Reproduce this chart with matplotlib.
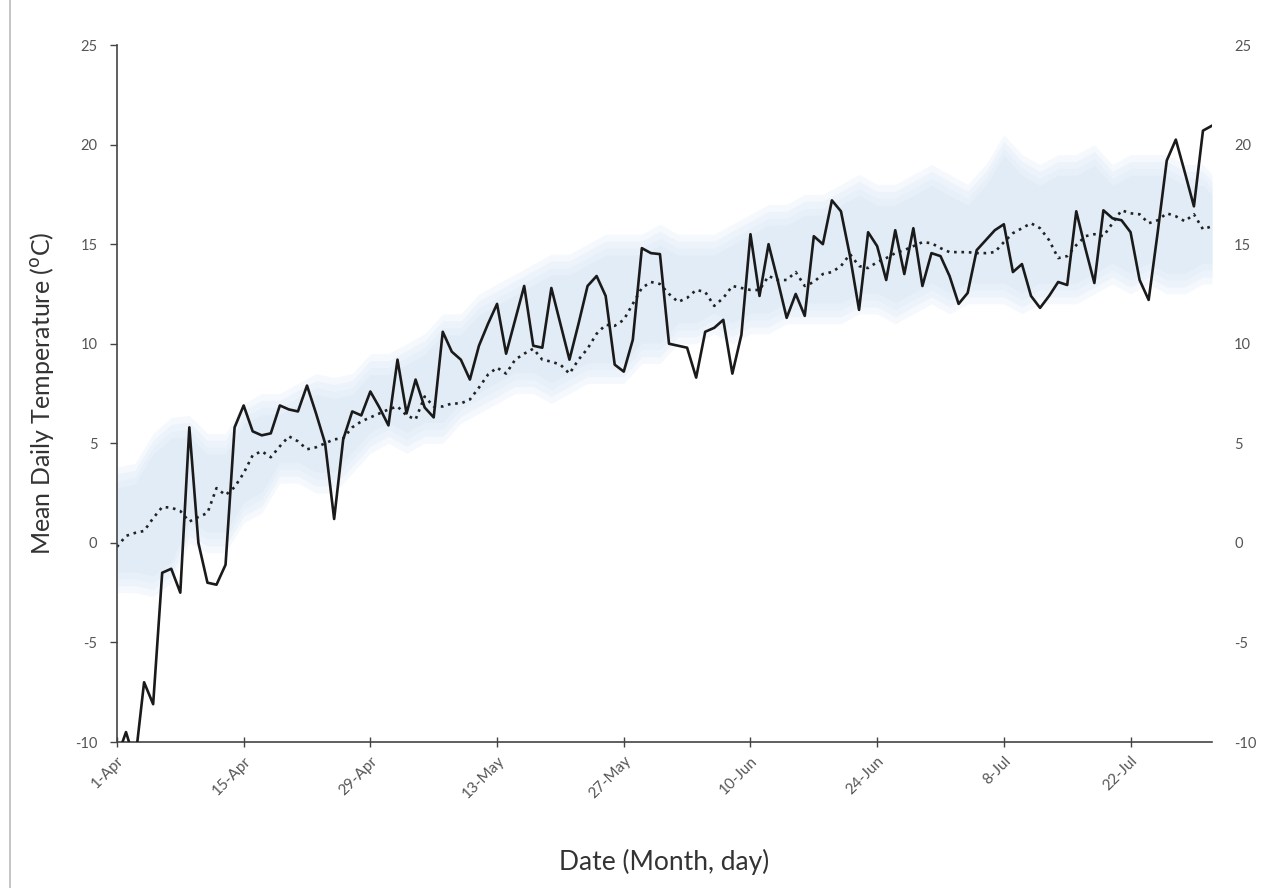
import numpy as np
import pandas as pd
import matplotlib
matplotlib.use('Agg')
import matplotlib.pyplot as plt

plt.rcParams['font.family'] = ['Lato', 'DejaVu Sans']
plt.rcParams['axes.unicode_minus'] = False

# daily values, 1 Apr - 31 Jul
dates = pd.date_range('2013-04-01', '2013-07-31', freq='D')

daily = [-10.8, -9.5, -11.0, -7.0, -8.1, -1.5, -1.3, -2.5, 5.8, 0.0,
         -2.0, -2.1, -1.1, 5.8, 6.9, 5.6, 5.4, 5.5, 6.9, 6.7,
         6.6, 7.9, 6.5, 5.0, 1.2, 5.2, 6.6, 6.4, 7.6, 6.8,
         5.9, 9.2, 6.5, 8.2, 6.8, 6.3, 10.6, 9.6, 9.2, 8.2,
         9.9, 11.0, 12.0, 9.5, 11.2, 12.9, 9.9, 9.8, 12.8, 11.0,
         9.2, 11.0, 12.9, 13.4, 12.4, 8.95, 8.6, 10.2, 14.8, 14.55,
         14.5, 10.0, 9.9, 9.8, 8.3, 10.6, 10.8, 11.2, 8.5, 10.45,
         15.5, 12.4, 15.0, 13.2, 11.3, 12.5, 11.4, 15.4, 15.0, 17.2,
         16.65, 14.4, 11.7, 15.6, 14.9, 13.2, 15.7, 13.5, 15.8, 12.9,
         14.55, 14.4, 13.4, 12.0, 12.55, 14.7, 15.2, 15.7, 16.0, 13.6,
         14.0, 12.4, 11.8, 12.4, 13.1, 12.95, 16.65, 14.8, 13.05, 16.7,
         16.3, 16.2, 15.6, 13.2, 12.2, 15.6, 19.2, 20.25, 18.6, 16.9,
         20.7, 20.95]

mean = [-0.2, 0.35, 0.5, 0.6, 1.24, 1.8, 1.77, 1.6, 1.07, 1.3,
        1.5, 2.75, 2.4, 2.8, 3.5, 4.4, 4.6, 4.3, 4.85, 5.35,
        5.1, 4.7, 4.8, 5.0, 5.2, 5.25, 5.8, 6.1, 6.3, 6.5,
        6.7, 6.85, 6.4, 6.2, 7.35, 6.85, 6.85, 7.0, 7.0, 7.2,
        7.8, 8.45, 8.8, 8.5, 9.2, 9.5, 9.75, 9.2, 9.1, 8.95,
        8.5, 9.2, 9.75, 10.5, 10.95, 10.9, 11.2, 12.0, 12.8, 13.1,
        13.0, 12.5, 12.1, 12.3, 12.7, 12.6, 11.9, 12.3, 12.9, 12.8,
        12.7, 12.7, 13.4, 13.2, 13.2, 13.6, 12.9, 13.1, 13.5, 13.6,
        13.9, 14.5, 13.9, 13.8, 14.1, 14.3, 14.55, 14.7, 14.9, 15.1,
        15.05, 14.8, 14.6, 14.6, 14.6, 14.55, 14.55, 14.6, 15.1, 15.55,
        15.8, 16.05, 15.8, 15.2, 14.3, 14.4, 14.95, 15.4, 15.5, 15.4,
        16.05, 16.7, 16.55, 16.5, 16.05, 16.2, 16.55, 16.4, 16.15, 16.5,
        15.75, 15.9]

# shaded range, every second day (plus 31 Jul)
band_dates = pd.to_datetime(['2013-04-01', '2013-04-03', '2013-04-05', '2013-04-07', '2013-04-09',
                             '2013-04-11', '2013-04-13', '2013-04-15', '2013-04-17', '2013-04-19',
                             '2013-04-21', '2013-04-23', '2013-04-25', '2013-04-27', '2013-04-29',
                             '2013-05-01', '2013-05-03', '2013-05-05', '2013-05-07', '2013-05-09',
                             '2013-05-11', '2013-05-13', '2013-05-15', '2013-05-17', '2013-05-19',
                             '2013-05-21', '2013-05-23', '2013-05-25', '2013-05-27', '2013-05-29',
                             '2013-05-31', '2013-06-02', '2013-06-04', '2013-06-06', '2013-06-08',
                             '2013-06-10', '2013-06-12', '2013-06-14', '2013-06-16', '2013-06-18',
                             '2013-06-20', '2013-06-22', '2013-06-24', '2013-06-26', '2013-06-28',
                             '2013-06-30', '2013-07-02', '2013-07-04', '2013-07-06', '2013-07-08',
                             '2013-07-10', '2013-07-12', '2013-07-14', '2013-07-16', '2013-07-18',
                             '2013-07-20', '2013-07-22', '2013-07-24', '2013-07-26', '2013-07-28',
                             '2013-07-30', '2013-07-31'])
band_hi = [3.8, 4.0, 5.5, 6.3, 6.4, 5.5, 5.5, 7.0, 7.5, 7.5,
           8.0, 8.5, 8.3, 8.5, 9.5, 9.5, 10.0, 10.5, 11.5, 11.5,
           12.5, 13.0, 13.5, 14.0, 14.5, 14.5, 15.0, 15.5, 15.5, 15.5,
           16.0, 15.5, 15.5, 15.5, 16.0, 16.5, 17.0, 17.0, 17.5, 17.5,
           18.0, 18.5, 18.0, 18.0, 18.5, 19.0, 18.5, 18.0, 19.0, 20.5,
           19.5, 19.0, 19.5, 19.5, 20.0, 19.0, 19.5, 19.5, 19.5, 19.0,
           19.0, 18.5]
band_lo = [-2.5, -2.5, -2.7, -2.0, 0.0, -0.5, -0.5, 1.0, 1.5, 3.0,
           3.0, 2.5, 2.5, 3.5, 4.5, 5.0, 4.5, 5.0, 5.0, 6.0,
           6.5, 7.0, 7.5, 7.5, 7.0, 7.5, 8.0, 8.0, 8.0, 9.0,
           9.0, 10.0, 10.0, 10.5, 10.0, 10.5, 10.5, 11.0, 11.0, 11.0,
           11.0, 11.5, 11.5, 11.0, 11.5, 12.0, 11.5, 12.0, 12.0, 12.0,
           11.5, 12.0, 12.0, 12.0, 12.5, 13.0, 12.5, 13.0, 12.5, 12.5,
           13.0, 13.0]

tick_dates = pd.date_range('2013-04-01', periods=9, freq='14D')
tick_labels = ['1-Apr', '15-Apr', '29-Apr', '13-May', '27-May', '10-Jun', '24-Jun', '8-Jul', '22-Jul']
yticks = [-10, -5, 0, 5, 10, 15, 20, 25]

fig = plt.figure(figsize=(12.67, 8.88), dpi=100)
ax = fig.add_axes([0.0923, 0.1644, 0.8643, 0.7849])

# soft-edged band: a few stacked translucent layers
lo = np.array(band_lo)
hi = np.array(band_hi)
for k in range(4):
    ax.fill_between(band_dates, lo + 0.35 * k, hi - 0.35 * k, color='#d2e3f3', alpha=0.22, lw=0, zorder=1)

ax.plot(dates, mean, color='#222222', lw=1.9, linestyle=(0, (1, 1.8)), zorder=2)
ax.plot(dates, daily, color='#1a1a1a', lw=1.9, zorder=3)

ax.set_xlim(dates[0], dates[-1])
ax.set_ylim(-10, 25)
ax.set_yticks(yticks)
ax.set_xticks(tick_dates)
ax.set_xticklabels(tick_labels, rotation=45, ha='right', rotation_mode='anchor')

for s in ['top', 'right']:
    ax.spines[s].set_visible(False)
for s in ['left', 'bottom']:
    ax.spines[s].set_color('#444444')
    ax.spines[s].set_linewidth(1.2)

ax.tick_params(axis='y', direction='out', length=5, width=1, color='#444444',
               labelsize=10.5, labelcolor='#555555', pad=9)
ax.tick_params(axis='x', direction='inout', length=7, width=1, color='#444444',
               labelsize=11, labelcolor='#555555', pad=5)

ax2 = ax.twinx()
ax2.set_ylim(-10, 25)
ax2.set_yticks(yticks)
for s in ax2.spines.values():
    s.set_visible(False)
ax2.tick_params(axis='y', length=0, labelsize=10.5, labelcolor='#555555', pad=16)

ax.set_ylabel(r'Mean Daily Temperature ($^{\mathrm{o}}$C)', fontsize=18, color='#333333', labelpad=14)
ax.set_xlabel('Date (Month, day)', fontsize=19, color='#333333', labelpad=34)

# thin frame line at the left edge of the picture
fig.add_artist(plt.Line2D([0.008, 0.008], [0.0, 1.0], color='#bbbbbb', lw=1.2))

fig.savefig('out.png', dpi=100, facecolor='white')
